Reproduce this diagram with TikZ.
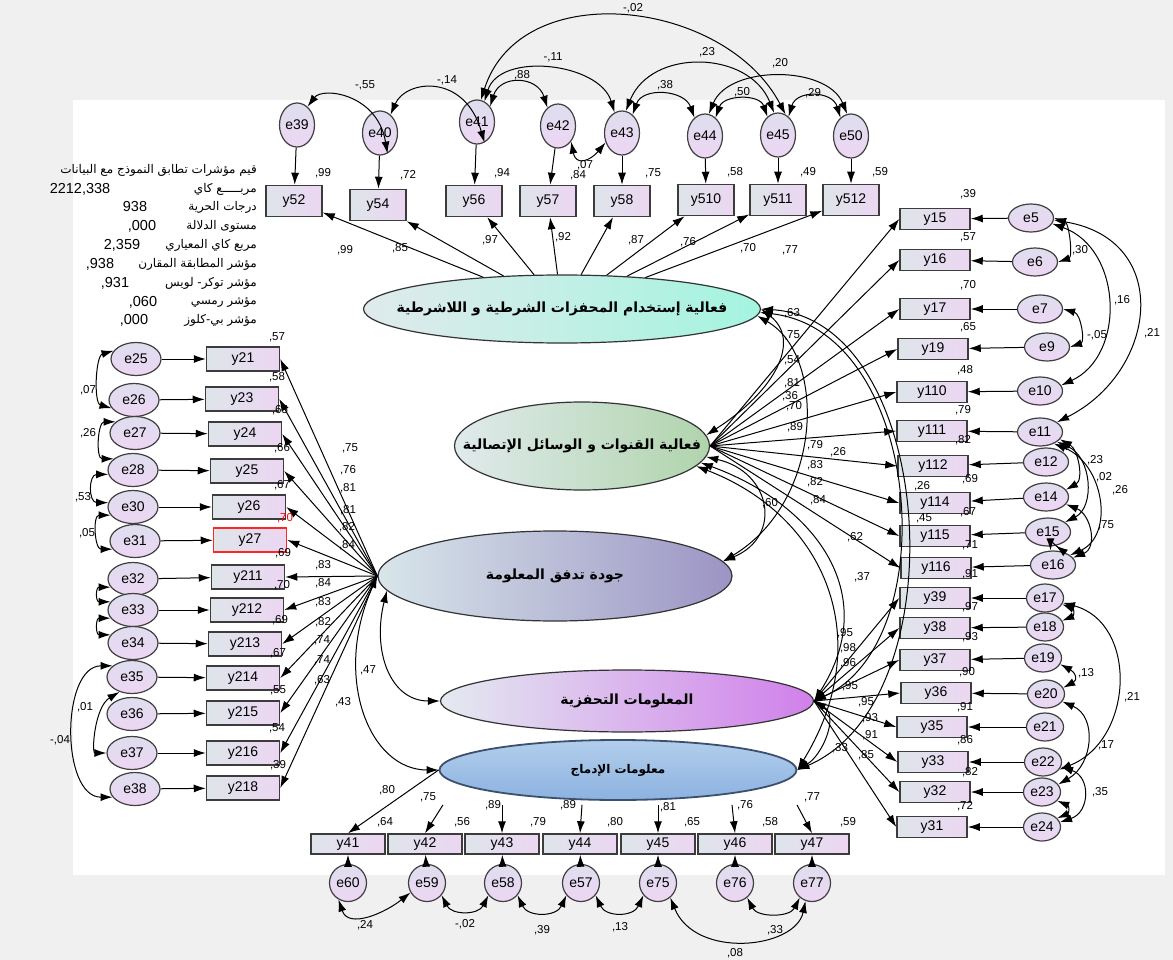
\documentclass[tikz,border=0pt]{standalone}
\usepackage{fontspec}
\setmainfont{Liberation Sans}
\newfontfamily\arfont[Script=Arabic]{DejaVu Sans}
\TeXXeTstate=1
\usetikzlibrary{arrows.meta,shapes.geometric,calc}
\definecolor{bggray}{RGB}{240,240,240}
\definecolor{boxline}{RGB}{60,60,60}
\definecolor{obsleft}{RGB}{222,229,234}
\definecolor{obsright}{RGB}{236,214,242}
\definecolor{errtop}{RGB}{222,222,238}
\definecolor{errbot}{RGB}{238,214,244}
\definecolor{latAleft}{RGB}{224,234,236}
\definecolor{latAright}{RGB}{164,244,224}
\definecolor{latBleft}{RGB}{224,234,236}
\definecolor{latBright}{RGB}{176,212,172}
\definecolor{latCleft}{RGB}{216,230,234}
\definecolor{latCright}{RGB}{156,148,196}
\definecolor{latDleft}{RGB}{228,234,240}
\definecolor{latDright}{RGB}{208,128,234}
\definecolor{latEtop}{RGB}{178,206,236}
\definecolor{latEbot}{RGB}{140,178,224}
\definecolor{latEline}{RGB}{60,80,110}

\begin{document}
\begin{tikzpicture}[x=1pt,y=-1pt,
    obs/.style={rectangle, draw=boxline, line width=1.5pt, left color=obsleft,
      right color=obsright, inner sep=0pt, font={\fontsize{14}{16}\selectfont}},
    err/.style={ellipse, draw=black!75, line width=1.2pt, top color=errtop,
      bottom color=errbot, inner sep=0pt, font={\fontsize{14}{16}\selectfont}},
    lat/.style={ellipse, draw=black!80, line width=1.2pt, inner sep=0pt},
    lattext/.style={inner sep=0pt, font={\arfont\bfseries\fontsize{14}{16}\selectfont}},
    regpath/.style={-{Latex[length=12pt,width=8pt]}, line width=1pt},
    cov/.style={{Latex[length=12pt,width=8pt]}-{Latex[length=12pt,width=8pt]}, line width=1pt},
    est/.style={inner sep=0pt, font={\fontsize{11.5}{12}\selectfont}},
    fit/.style={inner sep=0pt, font={\arfont\fontsize{12}{13}\selectfont}}]

  % background of the AMOS window
  \fill[bggray] (0,0) rectangle (1173,960);
  \fill[white] (73,100) rectangle (1165,875);
  \useasboundingbox (0,0) rectangle (1173,960);

  % latent variables
  \node[lat, minimum width=397pt, minimum height=68pt, left color=latAleft, right color=latAright] (lat1) at (562,309) {};
  \node[lat, minimum width=255pt, minimum height=88pt, left color=latBleft, right color=latBright] (lat2) at (582,446) {};
  \node[lat, minimum width=354pt, minimum height=90pt, left color=latCleft, right color=latCright] (lat3) at (555,576) {};
  \node[lat, minimum width=373pt, minimum height=62pt, left color=latDleft, right color=latDright] (lat4) at (627,701) {};
  \node[lat, draw=latEline, line width=1.8pt, minimum width=357pt, minimum height=60pt, top color=latEtop, bottom color=latEbot] (lat5) at (618,770) {};
  \node[lattext] (t1) at (lat1) {\beginR فعالية إستخدام المحفزات الشرطية و اللاشرطية\endR};
  \node[lattext] (t2) at (lat2) {\beginR فعالية القنوات و الوسائل الإتصالية\endR};
  \node[lattext] (t3) at (lat3) {\beginR جودة تدفق  المعلومة\endR};
  \node[lattext] (t4) at (lat4) {\beginR المعلومات التحفزية\endR};
  \node[lattext, font={\arfont\bfseries\fontsize{12}{14}\selectfont}] (t5) at (lat5) {\beginR معلومات الإدماج\endR};

  % top row: errors and indicators
  \foreach \e/\ex/\ey/\b/\bx/\by in {39/297/125/52/294/201,40/380/133/54/378/205,
      41/477/122/56/474/201,42/558/126/57/548/201,43/622/133/58/622/201,
      44/705/136/510/706/200,45/778/135/511/778/200,50/851/136/512/851/200}{
    \node[err, minimum width=35pt, minimum height=44pt] (e\e) at (\ex,\ey) {e\e};
    \node[obs, minimum width=56pt, minimum height=31pt] (y\b) at (\bx,\by) {y\b};
    \draw[regpath] (e\e) -- (y\b);
  }

  % left column
  \foreach \e/\ex/\ey/\b/\bx/\by/\c in {25/136/359/21/243/359/boxline,26/134/400/23/242/399/boxline,
      27/135/433/24/245/434/boxline,28/133/470/25/247/471/boxline,30/133/507/26/249/507/boxline,
      31/135/541/27/250/540/red!85,32/133/579/211/248/577/boxline,33/133/610/212/247/610/boxline,
      34/133/643/213/245/644/boxline,35/132/677/214/243/678/boxline,36/132/714/215/243/713/boxline,
      37/132/753/216/243/753/boxline,38/135/789/218/243/788/boxline}{
    \node[err, minimum width=50pt, minimum height=33pt] (e\e) at (\ex,\ey) {e\e};
    \node[obs, draw=\c, minimum width=73pt, minimum height=24pt] (y\b) at (\bx,\by) {y\b};
    \draw[regpath] (e\e) -- (y\b);
  }

  % right column
  \foreach \e/\ex/\ey/\b/\bx/\by/\w in {5/1031/218/15/935/219/45,6/1035/262/16/935/260/45,
      7/1040/309/17/935/309/45,9/1047/347/19/933/349/45,10/1040/391/110/932/392/45,
      11/1040/432/111/932/431/45,12/1046/462/112/933/466/45,14/1046/497/114/935/503/45,
      15/1048/532/115/935/536/45,16/1053/565/116/936/568/45,17/1045/598/39/935/598/37,
      18/1045/627/38/935/628/37,19/1043/658/37/935/660/37,20/1046/694/36/936/693/37,
      21/1045/727/35/932/727/37,22/1043/762/33/933/762/37,23/1042/792/32/935/792/37,
      24/1042/827/31/932/827/37}{
    \node[err, minimum width=\w pt, minimum height=28pt] (e\e) at (\ex,\ey) {e\e};
    \node[obs, minimum width=70pt, minimum height=21pt] (y\b) at (\bx,\by) {y\b};
    \draw[regpath] (e\e) -- (y\b);
  }

  % bottom row
  \foreach \e/\ex/\b/\bx in {60/348/41/348,59/427/42/425,58/503/43/502,57/581/44/580,
      75/658/45/658,76/735/46/735,77/812/47/812}{
    \node[err, minimum width=37pt, minimum height=37pt] (e\e) at (\ex,883) {e\e};
    \node[obs, minimum width=74pt, minimum height=20pt] (y\b) at (\bx,844) {y\b};
    \draw[regpath] (e\e) -- (y\b);
  }

  % loadings
  \foreach \b in {52,54,56,57,58,510,511,512}
    \draw[regpath] (lat1) -- (y\b);
  \foreach \b in {15,16,17,19,110,111,112,114,115,116}
    \draw[regpath] (lat2.east) -- (y\b.west);
  \foreach \b in {21,23,24,25,26,27,211,212,213,214,215,216,218}
    \draw[regpath] (lat3.west) -- (y\b.east);
  \foreach \b in {39,38,37,36,35,33,32,31}
    \draw[regpath] (lat4.east) -- (y\b.west);
  \draw[regpath] (lat5.west) -- (y41.north);
  \foreach \b/\dx in {42/18,43/0,44/2,45/0,46/-3,47/-15}
    \draw[regpath] ($(lat5.south -| y\b.north)+(\dx,4)$) -- (y\b.north);

  % covariances between latents
  \draw[cov] (lat1.east) .. controls +(40,31) and +(70,-45) .. (lat2.5);
  \draw[cov] (lat2.-5) .. controls +(65,15) and +(60,-25) .. (lat3.5);
  \draw[cov] (lat1.-2) .. controls +(70,40) and +(100,-60) .. (lat3.5);
  \draw[cov] (lat1.-1) .. controls +(162,18) and +(132,-61) .. (lat4.east);
  \draw[cov] (lat1.east) .. controls +(175,11) and +(163,-70) .. (lat5.east);
  \draw[cov] (lat2.-8) .. controls +(110,40) and +(70,-110) .. (lat4.east);
  \draw[cov] (lat2.-10) .. controls +(130,50) and +(80,-130) .. (lat5.east);
  \draw[cov] (lat3.185) .. controls +(-15,60) and +(-50,0) .. (lat4.west);
  \draw[cov] (lat3.west) .. controls +(-45,100) and +(-70,0) .. (lat5.west);
  \draw[cov] (lat4.east) .. controls +(25,15) and +(25,-15) .. (lat5.east);

  % covariances of the top errors
  \draw[cov] (e39.60) .. controls +(15,-20) and +(-10,-60) .. (e40.-70);
  \draw[cov] (e40.60) .. controls +(15,-35) and +(-20,-70) .. (e41.-70);
  \draw[cov] (e41.50) .. controls +(10,-32) and +(-10,-32) .. (e42.120);
  \draw[cov] (e41.70) .. controls +(15,-50) and +(-15,-50) .. (e43.110);
  \draw[cov] (e41.80) .. controls +(40,-125) and +(-60,-115) .. (e45.70);
  \draw[cov] (e42.-50) .. controls +(5,25) and +(-15,18) .. (e43.210);
  \draw[cov] (e43.60) .. controls +(10,-28) and +(-10,-28) .. (e44.120);
  \draw[cov] (e43.80) .. controls +(25,-63) and +(-25,-63) .. (e45.100);
  \draw[cov] (e44.60) .. controls +(8,-23) and +(-8,-23) .. (e45.120);
  \draw[cov] (e44.80) .. controls +(20,-49) and +(-20,-49) .. (e50.100);
  \draw[cov] (e45.60) .. controls +(8,-27) and +(-8,-27) .. (e50.120);

  % covariances of the left errors
  \draw[cov] (e25.160) .. controls +(-18,5) and +(-18,-5) .. (e26.200);
  \draw[cov] (e27.150) .. controls +(-18,0) and +(-18,0) .. (e28.150);
  \draw[cov] (e28.190) .. controls +(-20,0) and +(-20,0) .. (e30.170);
  \draw[cov] (e30.200) .. controls +(-18,0) and +(-18,0) .. (e31.200);
  \draw[cov] (e32.200) .. controls +(-15,0) and +(-15,0) .. (e33.160);
  \draw[cov] (e33.200) .. controls +(-15,0) and +(-15,0) .. (e34.160);
  \draw[cov] (e35.150) .. controls +(-52,0) and +(-52,0) .. (e38.200);
  \draw[cov] (e35.230) .. controls +(-25,15) and +(-15,0) .. (e37.west);

  % covariances of the right errors
  \draw[cov] (e5.east) .. controls +(15,5) and +(15,-5) .. (e6.east);
  \draw[cov] (e5.-15) .. controls +(70,25) and +(65,-30) .. (e10.15);
  \draw[cov] (e5.-5) .. controls +(120,20) and +(100,-50) .. (e11.30);
  \draw[cov] (e7.east) .. controls +(18,5) and +(15,-5) .. (e9.east);
  \draw[cov] (e11.-20) .. controls +(18,10) and +(18,-10) .. (e14.20);
  \draw[cov] (e11.-30) .. controls +(35,15) and +(30,-15) .. (e15.30);
  \draw[cov] (e11.-40) .. controls +(50,20) and +(45,-20) .. (e16.30);
  \draw[cov] (e14.-20) .. controls +(25,10) and +(25,-10) .. (e16.20);
  \draw[cov] (e15.-60) .. controls +(8,6) and +(0,-8) .. (e16.100);
  \draw[cov] (e17.-20) .. controls +(12,5) and +(12,-5) .. (e18.20);
  \draw[cov] (e17.-15) .. controls +(75,20) and +(75,-30) .. (e22.-25);
  \draw[cov] (e19.-20) .. controls +(15,8) and +(15,-8) .. (e20.20);
  \draw[cov] (e20.-25) .. controls +(35,15) and +(35,-20) .. (e23.25);
  \draw[cov] (e22.-15) .. controls +(30,10) and +(30,-10) .. (e24.15);
  \draw[cov] (e23.-30) .. controls +(12,5) and +(12,-5) .. (e24.30);

  % covariances of the bottom errors
  \draw[cov] (e60.-120) .. controls +(10,30) and +(-25,20) .. (e59.-150);
  \draw[cov] (e59.-40) .. controls +(10,20) and +(-10,20) .. (e58.-140);
  \draw[cov] (e58.-40) .. controls +(10,22) and +(-10,22) .. (e57.-140);
  \draw[cov] (e57.-40) .. controls +(10,22) and +(-10,22) .. (e75.-140);
  \draw[cov] (e76.-50) .. controls +(10,20) and +(-10,20) .. (e77.-130);
  \draw[cov] (e75.-50) .. controls +(25,62) and +(-10,48) .. (e77.-110);

  % estimates: squared multiple correlations
  \foreach \t/\x/\y [count=\i] in {{,99}/323/173,{,72}/408/175,{,94}/502/173,{,84}/578/175,
      {,75}/653/173,{,58}/735/172,{,49}/808/172,{,59}/880/172,
      {,39}/968/194,{,57}/968/237,{,70}/968/285,{,65}/968/327,{,48}/965/370,
      {,79}/963/410,{,82}/963/440,{,69}/970/479,{,67}/968/512,{,71}/970/545,
      {,91}/970/574,{,97}/970/607,{,93}/970/637,{,90}/967/672,{,91}/965/707,
      {,86}/965/740,{,82}/970/772,{,72}/965/806,
      {,64}/385/822,{,56}/462/822,{,79}/538/822,{,80}/615/822,{,65}/692/822,
      {,58}/770/822,{,59}/848/822,
      {,57}/277/337,{,58}/277/377,{,65}/280/410,{,66}/282/448,{,67}/282/485,
      {,69}/283/553,{,70}/282/585,{,69}/280/620,{,67}/278/653,{,55}/278/690,
      {,54}/277/728,{,39}/278/765}
    \node[est] (rsq\i) at (\x,\y) {\t};
  \node[est, text=red] (rsqred) at (285,518) {,70};

  % estimates: loadings
  \foreach \t/\x/\y [count=\i] in {{,99}/345/250,{,85}/400/248,{,97}/490/240,{,92}/563/237,
      {,87}/636/240,{,76}/688/242,{,70}/748/248,{,77}/790/250,
      {,63}/792/313,{,75}/792/335,{,54}/792/360,{,81}/792/383,{,70}/794/406,
      {,89}/795/427,{,79}/815/445,{,83}/815/465,{,82}/815/482,{,84}/818/500,
      {,75}/350/448,{,76}/348/470,{,81}/348/488,{,81}/348/510,{,82}/347/527,
      {,84}/347/545,{,83}/323/565,{,84}/323/583,{,83}/323/602,{,82}/323/622,
      {,74}/322/640,{,74}/322/660,{,63}/322/680,
      {,95}/845/633,{,98}/848/648,{,96}/848/663,{,95}/850/686,{,95}/866/702,
      {,93}/870/718,{,91}/870/735,{,85}/866/755,
      {,80}/387/790,{,75}/428/797,{,89}/493/805,{,89}/568/805,{,81}/668/807,
      {,76}/745/805,{,77}/812/797}
    \node[est] (load\i) at (\x,\y) {\t};

  % estimates: covariances
  \foreach \t/\x/\y [count=\i] in {{-,55}/365/85,{-,14}/447/80,{,88}/522/75,{-,11}/553/57,
      {-,02}/633/8,{,07}/585/165,{,38}/665/85,{,23}/707/52,{,50}/742/92,
      {,20}/780/63,{,29}/813/93,
      {,07}/88/390,{,26}/88/433,{,53}/83/497,{,05}/87/533,{-,04}/60/740,{,01}/85/707,
      {,30}/1080/250,{,16}/1122/300,{,21}/1152/333,{-,05}/1097/335,{,23}/1095/460,
      {,02}/1104/477,{,26}/1120/490,{,75}/1106/525,{,21}/1132/697,{,13}/1086/673,
      {,17}/1106/745,{,35}/1100/792,
      {,24}/365/925,{-,02}/465/924,{,39}/542/930,{,13}/620/927,{,33}/775/930,{,08}/735/953,
      {,36}/790/396,{,60}/770/503,{,26}/838/452,{,26}/922/486,{,45}/924/518,
      {,62}/855/537,{,37}/862/577,{,47}/368/670,{,43}/343/702,{,33}/840/748}
    \node[est] (cv\i) at (\x,\y) {\t};

  % model fit indices
  \foreach \t/\y [count=\i] in {{قيم مؤشرات تطابق النموذج مع البيانات}/170,{مربـــــع كاي}/189,
      {درجات الحرية}/207,{مستوى الدلالة}/226,{مربع كاي المعياري}/245,
      {مؤشر المطابقة المقارن}/264,{مؤشر توكر- لويس}/283,{مؤشر رمسي}/302,{مؤشر بي-كلوز}/320}
    \node[fit, anchor=east] (fitname\i) at (257,\y) {\beginR\t\endR};
  \foreach \t/\x/\y [count=\i] in {{2212,338}/80/189,{938}/135/207,{,000}/142/226,
      {2,359}/122/245,{,938}/100/264,{,931}/115/283,{,060}/143/302,{,000}/134/320}
    \node[est, font={\fontsize{14.5}{15}\selectfont}] (fitval\i) at (\x,\y) {\t};
\end{tikzpicture}
\end{document}
